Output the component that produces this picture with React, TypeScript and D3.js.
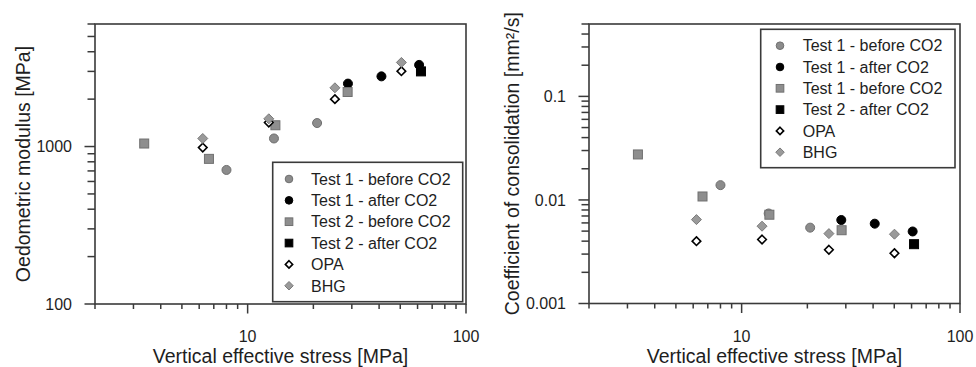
import React from "react";
import * as d3 from "d3";

// ---------- Data: left chart (Oedometric modulus [MPa]) ----------
const modT1BeforeStress = [8.0, 13.2, 20.8];
const modT1BeforeValue = [710, 1125, 1410];
const modT1AfterStress = [28.8, 41, 61];
const modT1AfterValue = [2510, 2790, 3300];
const modT2BeforeStress = [3.36, 6.65, 13.4, 28.7];
const modT2BeforeValue = [1045, 835, 1365, 2220];
const modT2AfterStress = [62.2];
const modT2AfterValue = [3000];
const modOpaStress = [6.23, 12.5, 25.1, 50.6];
const modOpaValue = [985, 1420, 2000, 3010];
const modBhgStress = [6.23, 12.5, 25.1, 50.6];
const modBhgValue = [1125, 1500, 2360, 3420];

// ---------- Data: right chart (Coefficient of consolidation [mm²/s]) ----------
const cvT1BeforeStress = [8.0, 13.3, 20.6];
const cvT1BeforeValue = [0.0139, 0.0074, 0.0054];
const cvT1AfterStress = [28.6, 40.7, 60.7];
const cvT1AfterValue = [0.0064, 0.0059, 0.00496];
const cvT2BeforeStress = [3.35, 6.62, 13.4, 28.7];
const cvT2BeforeValue = [0.0275, 0.0108, 0.0072, 0.0051];
const cvT2AfterStress = [61.6];
const cvT2AfterValue = [0.00374];
const cvOpaStress = [6.21, 12.4, 25.1, 50.1];
const cvOpaValue = [0.004, 0.00415, 0.0033, 0.00306];
const cvBhgStress = [6.21, 12.4, 25.1, 50.1];
const cvBhgValue = [0.00646, 0.00558, 0.00473, 0.00467];

// ---------- Labels ----------
const leftLegendLabels = [
  "Test 1 - before CO2",
  "Test 1 - after CO2",
  "Test 2 - before CO2",
  "Test 2 - after CO2",
  "OPA",
  "BHG",
];
const rightLegendLabels = [
  "Test 1 - before CO2",
  "Test 1 - after CO2",
  "Test 1 - before CO2",
  "Test 2 - after CO2",
  "OPA",
  "BHG",
];
const xTickLabels = [10, 100];
const leftYTickLabels = [100, 1000];
const rightYTickLabels = [0.001, 0.01, 0.1];
const xDomain = [2, 100];
const leftYDomain = [100, 6000];
const rightYDomain = [0.001, 0.5];
const xLabel = "Vertical effective stress [MPa]";
const leftYLabel = "Oedometric modulus [MPa]";
const rightYLabel = "Coefficient of consolidation [mm²/s]";

type Kind = "greyCircle" | "blackCircle" | "greySquare" | "blackSquare" | "openDiamond" | "greyDiamond";
const kinds: Kind[] = ["greyCircle", "blackCircle", "greySquare", "blackSquare", "openDiamond", "greyDiamond"];

const FONT = "'Liberation Sans', Arial, Helvetica, sans-serif";
const AXIS = "#3a3a3a";
const TEXT = "#1e1e1e";

function Marker({ kind, x, y, s = 1 }: { kind: Kind; x: number; y: number; s?: number }) {
  if (kind === "greyCircle" || kind === "blackCircle") {
    const grey = kind === "greyCircle";
    return (
      <circle cx={x} cy={y} r={4.5 * s} fill={grey ? "#8c8c8c" : "#000"} stroke={grey ? "#6f6f6f" : "#000"} strokeWidth={1} />
    );
  }
  if (kind === "greySquare" || kind === "blackSquare") {
    const grey = kind === "greySquare";
    const h = 4.5 * s;
    return (
      <rect x={x - h} y={y - h} width={2 * h} height={2 * h} fill={grey ? "#8e8e8e" : "#000"} stroke={grey ? "#707070" : "#000"} strokeWidth={1} />
    );
  }
  if (kind === "openDiamond") {
    const d = 4.3 * s;
    const path = `M${x},${y - d}L${x + d},${y}L${x},${y + d}L${x - d},${y}Z`;
    return <path d={path} fill="#fff" stroke="#000" strokeWidth={1.6} />;
  }
  const d = 5.0 * s;
  const path = `M${x},${y - d}L${x + d},${y}L${x},${y + d}L${x - d},${y}Z`;
  return <path d={path} fill="#9a9a9a" stroke="#7a7a7a" strokeWidth={1} />;
}

interface PanelProps {
  left: number;
  right: number;
  top: number;
  bottom: number;
  yDomain: number[];
  yTicks: number[];
  yLabel: string;
  yLabelX: number;
  series: { xs: number[]; ys: number[]; kind: Kind }[];
  legendLabels: string[];
  legendBox: { x: number; y: number; w: number; h: number; mx: number; tx: number; r0: number; dr: number };
  yFormat: (v: number) => string;
}

function minorTicks(lo: number, hi: number): number[] {
  const out: number[] = [];
  let dec = Math.pow(10, Math.floor(Math.log10(lo) + 1e-9));
  while (dec <= hi * 1.0001) {
    for (let k = 1; k <= 9; k++) {
      const v = k * dec;
      if (v >= lo * 0.9999 && v <= hi * 1.0001) out.push(v);
    }
    dec *= 10;
  }
  return out;
}

function Panel(p: PanelProps) {
  const x = d3.scaleLog().domain(xDomain).range([p.left, p.right]);
  const y = d3.scaleLog().domain(p.yDomain).range([p.bottom, p.top]);
  const isMajor = (v: number) => Math.abs(Math.log10(v) - Math.round(Math.log10(v))) < 1e-6;
  const xt = minorTicks(xDomain[0], xDomain[1]);
  const yt = minorTicks(p.yDomain[0], p.yDomain[1]);
  const cx = (p.left + p.right) / 2;
  const cy = (p.top + p.bottom) / 2;
  const lb = p.legendBox;
  return (
    <g>
      {/* frame */}
      <rect x={p.left} y={p.top} width={p.right - p.left} height={p.bottom - p.top} fill="none" stroke={AXIS} strokeWidth={1.6} />
      {/* x ticks */}
      {xt.map((v, i) => (
        <line key={"xt" + i} x1={x(v)} x2={x(v)} y1={p.bottom} y2={p.bottom + (isMajor(v) ? 9.5 : 5)} stroke={AXIS} strokeWidth={1.5} />
      ))}
      {xTickLabels.map((v, i) => (
        <text key={"xl" + i} x={x(v)} y={341.5} textAnchor="middle" fontFamily={FONT} fontSize={16} fill={TEXT}>
          {String(v)}
        </text>
      ))}
      {/* y ticks */}
      {yt.map((v, i) => (
        <line key={"yt" + i} x1={p.left - (isMajor(v) ? 10.5 : 7.5)} x2={p.left} y1={y(v)} y2={y(v)} stroke={AXIS} strokeWidth={1.5} />
      ))}
      {p.yTicks.map((v, i) => (
        <text key={"yl" + i} x={p.left - 23} y={y(v)} dy="0.36em" textAnchor="end" fontFamily={FONT} fontSize={16} fill={TEXT}>
          {p.yFormat(v)}
        </text>
      ))}
      {/* axis titles */}
      <text x={cx} y={363} textAnchor="middle" fontFamily={FONT} fontSize={19.5} fill={TEXT}>
        {xLabel}
      </text>
      <text
        transform={`translate(${p.yLabelX},${cy}) rotate(-90)`}
        dy="0.36em"
        textAnchor="middle"
        fontFamily={FONT}
        fontSize={19.5}
        fill={TEXT}
      >
        {p.yLabel}
      </text>
      {/* data */}
      {p.series.map((s, si) =>
        s.xs.map((xv, i) => <Marker key={"m" + si + "-" + i} kind={s.kind} x={x(xv)} y={y(s.ys[i])} />)
      )}
      {/* legend */}
      <rect x={lb.x} y={lb.y} width={lb.w} height={lb.h} fill="#fff" stroke={AXIS} strokeWidth={1.6} />
      {p.legendLabels.map((t, i) => (
        <g key={"lg" + i}>
          <Marker kind={kinds[i]} x={lb.x + lb.mx} y={lb.y + lb.r0 + i * lb.dr} s={0.85} />
          <text x={lb.x + lb.tx} y={lb.y + lb.r0 + i * lb.dr} dy="0.36em" fontFamily={FONT} fontSize={16} fill={TEXT}>
            {t}
          </text>
        </g>
      ))}
    </g>
  );
}

export default function App() {
  const leftSeries = [
    { xs: modT1BeforeStress, ys: modT1BeforeValue, kind: kinds[0] },
    { xs: modT1AfterStress, ys: modT1AfterValue, kind: kinds[1] },
    { xs: modT2BeforeStress, ys: modT2BeforeValue, kind: kinds[2] },
    { xs: modT2AfterStress, ys: modT2AfterValue, kind: kinds[3] },
    { xs: modOpaStress, ys: modOpaValue, kind: kinds[4] },
    { xs: modBhgStress, ys: modBhgValue, kind: kinds[5] },
  ];
  const rightSeries = [
    { xs: cvT1BeforeStress, ys: cvT1BeforeValue, kind: kinds[0] },
    { xs: cvT1AfterStress, ys: cvT1AfterValue, kind: kinds[1] },
    { xs: cvT2BeforeStress, ys: cvT2BeforeValue, kind: kinds[2] },
    { xs: cvT2AfterStress, ys: cvT2AfterValue, kind: kinds[3] },
    { xs: cvOpaStress, ys: cvOpaValue, kind: kinds[4] },
    { xs: cvBhgStress, ys: cvBhgValue, kind: kinds[5] },
  ];
  return (
    <svg
      width={976}
      height={367}
      viewBox="0 0 976 367"
      style={{ position: "absolute", left: 0, top: 0, background: "#fff" }}
    >
      <rect x={0} y={0} width={976} height={367} fill="#fff" />
      <Panel
        left={95}
        right={466}
        top={24}
        bottom={304}
        yDomain={leftYDomain}
        yTicks={leftYTickLabels}
        yLabel={leftYLabel}
        yLabelX={23}
        series={leftSeries}
        legendLabels={leftLegendLabels}
        legendBox={{ x: 272.7, y: 162.3, w: 190, h: 139.4, mx: 16.3, tx: 38.3, r0: 16.7, dr: 21.35 }}
        yFormat={(v) => String(v)}
      />
      <Panel
        left={589}
        right={960}
        top={24}
        bottom={303.5}
        yDomain={rightYDomain}
        yTicks={rightYTickLabels}
        yLabel={rightYLabel}
        yLabelX={512}
        series={rightSeries}
        legendLabels={rightLegendLabels}
        legendBox={{ x: 760.7, y: 29.3, w: 194.3, h: 138.4, mx: 19.3, tx: 42, r0: 16.4, dr: 21.3 }}
        yFormat={(v) => String(v)}
      />
    </svg>
  );
}
